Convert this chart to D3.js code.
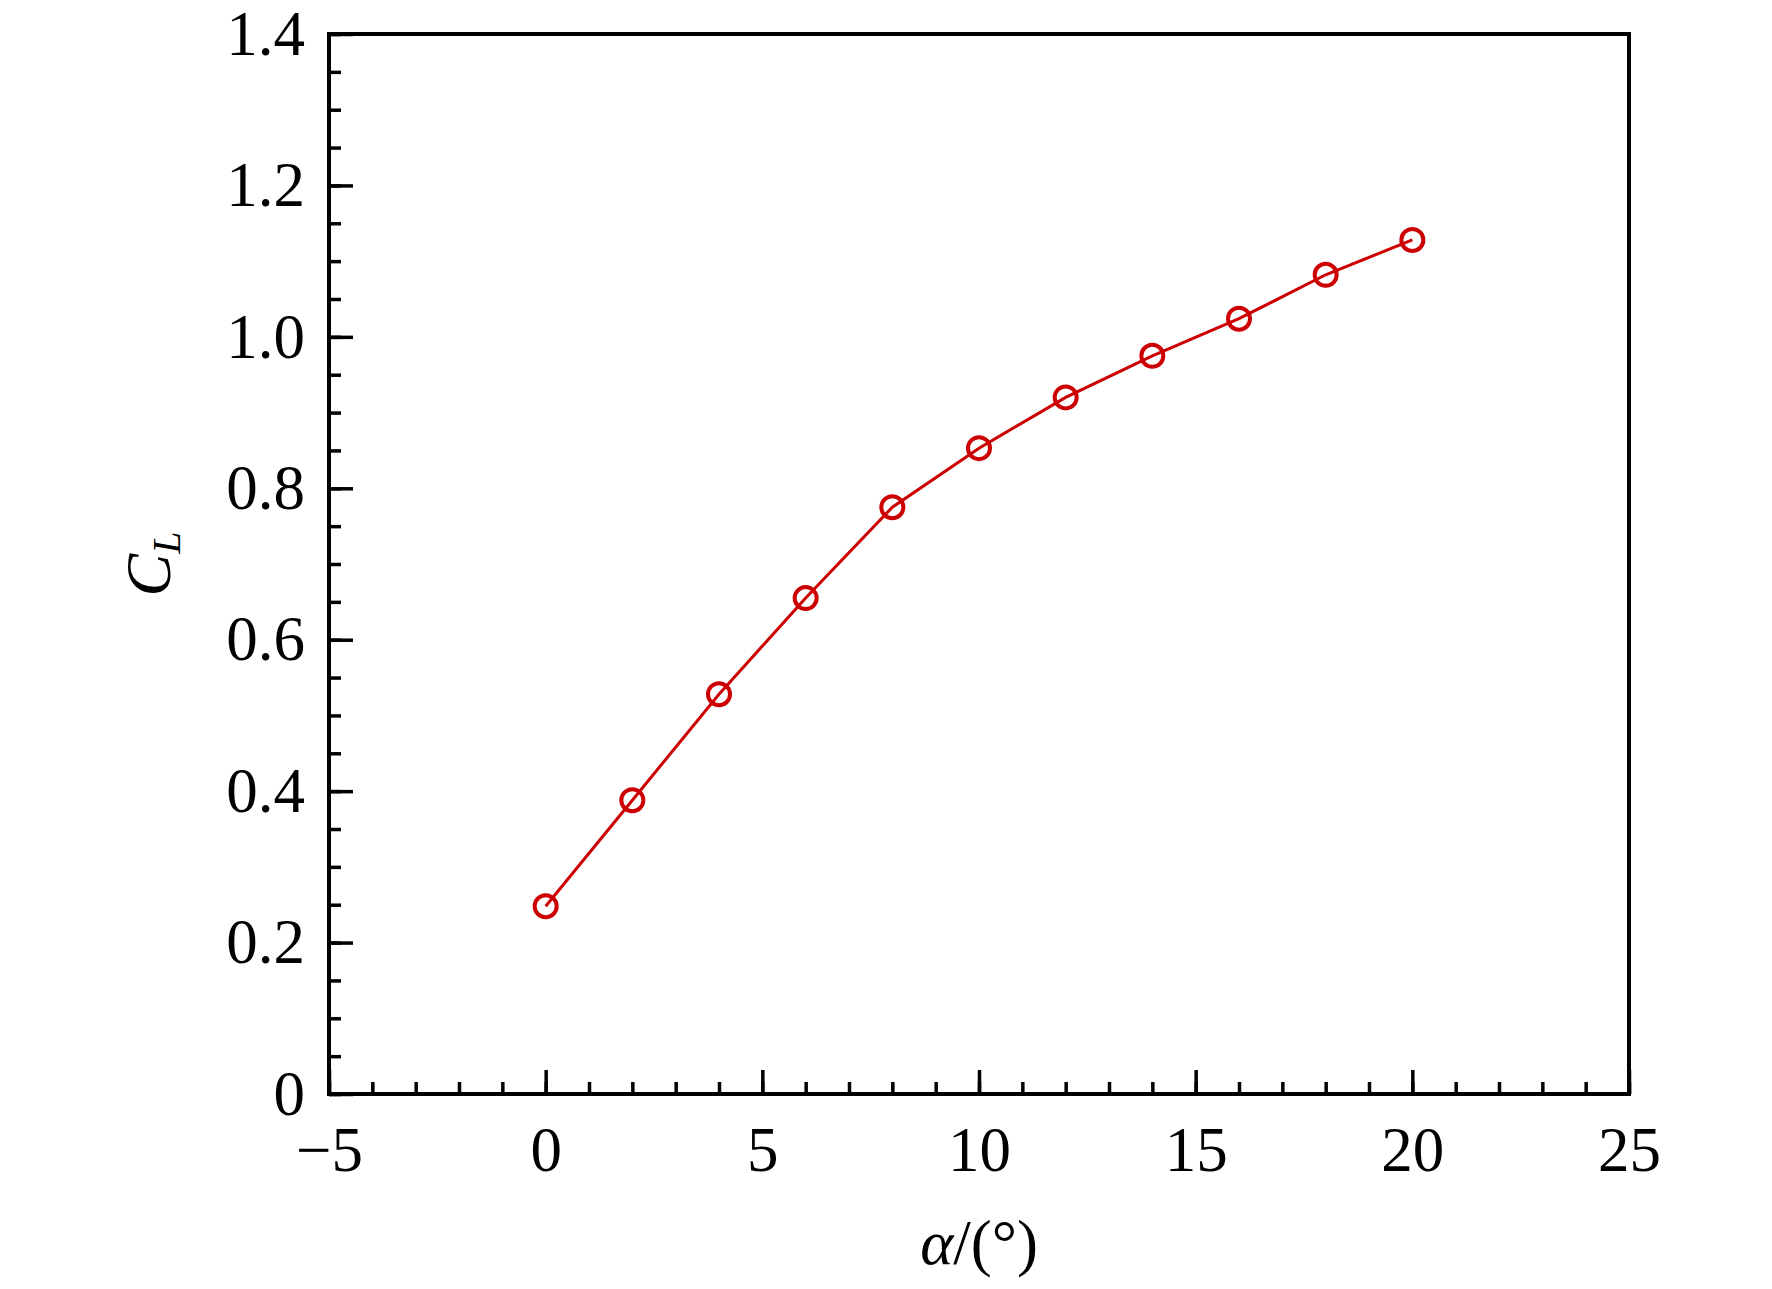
<!DOCTYPE html>
<html>
<head>
<meta charset="utf-8">
<script src="https://cdn.jsdelivr.net/npm/d3@7"></script>
<style>
body { margin: 0; background: #fff; }
text { font-family: "Liberation Serif", "Times New Roman", serif; fill: #000; }
</style>
</head>
<body>
<svg id="ChartSvg" width="1772" height="1289"></svg>
<script>
// angle of attack (deg) and lift coefficient
var AlphaValues = [0, 2, 4, 6, 8, 10, 12, 14, 16, 18, 20];
var ClValues = [0.248, 0.388, 0.528, 0.655, 0.775, 0.853, 0.920, 0.975, 1.024, 1.082, 1.128];
var XTicks = [-5, 0, 5, 10, 15, 20, 25];
var YTicks = [0, 0.2, 0.4, 0.6, 0.8, 1.0, 1.2, 1.4];

var Left = 329, Right = 1629, Top = 34, Bottom = 1094;
var LineColor = "#cc0000";

var Svg = d3.select("#ChartSvg");

var XScale = d3.scaleLinear().domain([-5, 25]).range([Left, Right]);
var YScale = d3.scaleLinear().domain([0, 1.4]).range([Bottom, Top]);

// minor ticks first, then the major ones on top
var XMinor = d3.range(-5, 25.01, 1);
var YMinor = d3.range(0, 1.401, 0.05);

Svg.append("g")
	.attr("transform", "translate(0," + Bottom + ")")
	.call(d3.axisBottom(XScale).tickValues(XMinor).tickSize(-12).tickFormat(""))
	.call(function(g){ g.select(".domain").remove(); })
	.selectAll("line").attr("stroke", "#000").attr("stroke-width", 3.5);

Svg.append("g")
	.attr("transform", "translate(" + Left + ",0)")
	.call(d3.axisLeft(YScale).tickValues(YMinor).tickSize(-12).tickFormat(""))
	.call(function(g){ g.select(".domain").remove(); })
	.selectAll("line").attr("stroke", "#000").attr("stroke-width", 3.5);

var XAxis = Svg.append("g")
	.attr("transform", "translate(0," + Bottom + ")")
	.call(d3.axisBottom(XScale).tickValues(XTicks).tickSize(-24).tickPadding(32)
		.tickFormat(function(d){ return d < 0 ? "\u2212" + Math.abs(d) : d; }));
XAxis.select(".domain").remove();
XAxis.selectAll("line").attr("stroke", "#000").attr("stroke-width", 3.5);
XAxis.selectAll("text").attr("font-size", 63);

var YAxis = Svg.append("g")
	.attr("transform", "translate(" + Left + ",0)")
	.call(d3.axisLeft(YScale).tickValues(YTicks).tickSize(-24).tickPadding(24)
		.tickFormat(function(d){ return d === 0 ? "0" : d3.format(".1f")(d); }));
YAxis.select(".domain").remove();
YAxis.selectAll("line").attr("stroke", "#000").attr("stroke-width", 3.5);
YAxis.selectAll("text").attr("font-size", 63);

// frame
Svg.append("rect")
	.attr("x", Left)
	.attr("y", Top)
	.attr("width", Right - Left)
	.attr("height", Bottom - Top)
	.attr("fill", "none")
	.attr("stroke", "#000")
	.attr("stroke-width", 4);

var Points = AlphaValues.map(function(a, i){ return [a, ClValues[i]]; });

Svg.append("path")
	.datum(Points)
	.attr("fill", "none")
	.attr("stroke", LineColor)
	.attr("stroke-width", 3)
	.attr("d", d3.line()
		.x(function(d){ return XScale(d[0]); })
		.y(function(d){ return YScale(d[1]); }));

Svg.selectAll("circle.marker")
	.data(Points)
	.enter()
	.append("circle")
	.attr("class", "marker")
	.attr("cx", function(d){ return XScale(d[0]); })
	.attr("cy", function(d){ return YScale(d[1]); })
	.attr("r", 11)
	.attr("fill", "none")
	.attr("stroke", LineColor)
	.attr("stroke-width", 4);

// axis titles
var YTitle = Svg.append("text")
	.attr("transform", "translate(170," + ((Top + Bottom) / 2) + ") rotate(-90)")
	.attr("text-anchor", "middle")
	.attr("font-size", 64)
	.attr("font-style", "italic");
YTitle.append("tspan").text("C");
YTitle.append("tspan").attr("font-size", 40).attr("dy", 10).text("L");

Svg.append("text")
	.attr("x", (Left + Right) / 2)
	.attr("y", 1264)
	.attr("text-anchor", "middle")
	.attr("font-size", 63)
	.html('<tspan font-style="italic">\u03b1</tspan>/(\u00b0)');
</script>
</body>
</html>
